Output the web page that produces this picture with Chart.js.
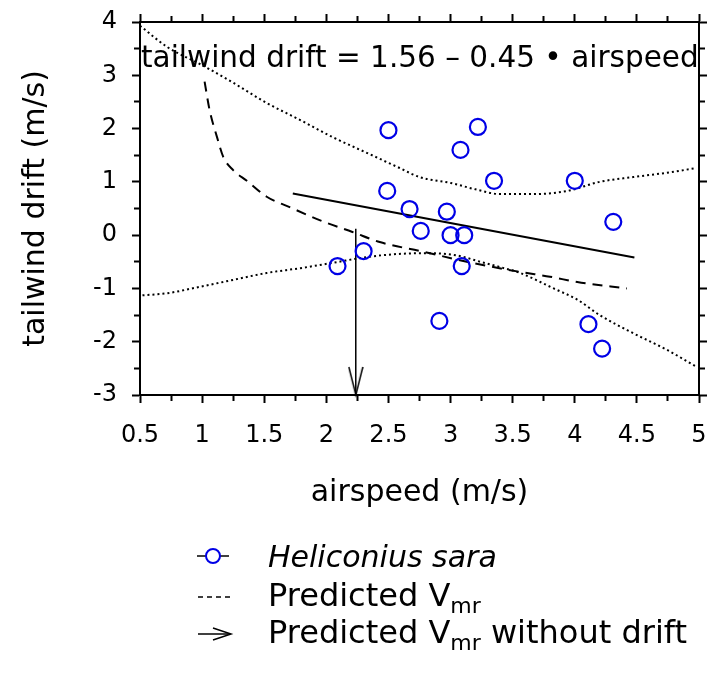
<!DOCTYPE html>
<html>
<head>
<meta charset="utf-8">
<script src="https://cdn.jsdelivr.net/npm/chart.js@4/dist/chart.umd.min.js"></script>
<style>
html, body { margin: 0; padding: 0; background: #fff; }
#wrap { position: relative; width: 708px; height: 684px; }
#myChart { position: absolute; left: 0; top: 0; }
#symbols { position: absolute; left: 0; top: 0; }
.leg { position: absolute; left: 268px; font: 32px "DejaVu Sans"; line-height: 32px; color: #000; white-space: nowrap; }
.leg sub { font-size: 22px; vertical-align: -7px; line-height: 0; }
</style>
</head>
<body>
<div id="wrap">
  <canvas id="myChart" width="708" height="684"></canvas>
  <svg id="symbols" width="708" height="684">
    <line x1="197" y1="556" x2="229" y2="556" stroke="#000" stroke-width="1.5"/>
    <circle cx="213" cy="556" r="7" fill="#fff" stroke="#0000e6" stroke-width="2"/>
    <line x1="198" y1="597" x2="231" y2="597" stroke="#000" stroke-width="1.5" stroke-dasharray="5 4"/>
    <line x1="198" y1="634" x2="230" y2="634" stroke="#000" stroke-width="1.5"/>
    <polyline points="213,628 231,634 213,640" fill="none" stroke="#000" stroke-width="1.5"/>
  </svg>
  <div class="leg" style="top:541px; font-size:30px"><i>Heliconius sara</i></div>
  <div class="leg" style="top:579px">Predicted V<sub>mr</sub></div>
  <div class="leg" style="top:616px">Predicted V<sub>mr</sub> without drift</div>
</div>
<script>
// Heliconius sara measurements
var speedX = [2.5, 3.22, 3.08, 3.35, 4.0, 2.49, 2.67, 2.76, 2.97, 3.0, 3.11, 3.09, 4.31, 2.09, 2.3, 2.91, 4.11, 4.22];
var driftY = [1.97, 2.03, 1.6, 1.02, 1.02, 0.83, 0.49, 0.08, 0.44, 0.0, 0.0, -0.58, 0.25, -0.58, -0.3, -1.61, -1.67, -2.13];

// regression line end points
var fitX = [1.73, 4.48];
var fitY = [0.78, -0.42];

// predicted Vmr (dashed)
var vmrX = [1.02, 1.06, 1.12, 1.17, 1.25, 1.36, 1.52, 1.71, 1.97, 2.21, 2.43, 2.78, 3.13, 3.56, 3.8, 4.02, 4.42];
var vmrY = [2.88, 2.35, 1.84, 1.47, 1.22, 1.02, 0.72, 0.52, 0.26, 0.06, -0.13, -0.31, -0.5, -0.69, -0.78, -0.88, -1.0];

// confidence band (dotted)
var upperX = [0.5, 0.72, 1.0, 1.25, 1.52, 1.79, 2.05, 2.33, 2.59, 2.75, 3.0, 3.2, 3.4, 3.66, 3.94, 4.2, 4.47, 4.74, 4.98];
var upperY = [3.93, 3.53, 3.19, 2.86, 2.48, 2.16, 1.84, 1.54, 1.26, 1.09, 0.98, 0.86, 0.77, 0.77, 0.83, 1.0, 1.09, 1.17, 1.26];
var lowerX = [0.52, 0.72, 0.98, 1.25, 1.52, 1.79, 2.05, 2.33, 2.6, 2.83, 3.05, 3.24, 3.4, 3.56, 3.83, 4.02, 4.2, 4.47, 4.74, 4.98];
var lowerY = [-1.13, -1.09, -0.97, -0.84, -0.71, -0.62, -0.52, -0.41, -0.35, -0.34, -0.38, -0.5, -0.6, -0.71, -1.0, -1.21, -1.5, -1.84, -2.15, -2.47];

// predicted Vmr without drift (arrow)
var arrowX = [2.237, 2.237];
var arrowY = [0.12, -3];

var xTickLabels = ['0.5', '1', '1.5', '2', '2.5', '3', '3.5', '4', '4.5', '5'];
var yTickLabels = ['-3', '-2', '-1', '0', '1', '2', '3', '4'];

function pts(xs, ys) {
  return xs.map(function (x, i) { return { x: x, y: ys[i] }; });
}

// open arrow head, tip in the centre of the image
var head = document.createElement('canvas');
head.width = 16; head.height = 58;
var hc = head.getContext('2d');
hc.strokeStyle = '#000';
hc.lineWidth = 1.5;
hc.beginPath();
hc.moveTo(1, 1); hc.lineTo(8, 29); hc.lineTo(15, 1);
hc.stroke();

// major ticks full length, minor ticks cut short with a dash pattern
function tickDash(step, outsideFirst) {
  return function (c) {
    var v = c.tick ? c.tick.value : 0;
    var major = Math.abs(v / step - Math.round(v / step)) < 1e-6;
    if (major) return [];
    return outsideFirst ? [0, 2, 5, 100] : [5, 100];
  };
}

function grid(step, outsideFirst) {
  return {
    drawOnChartArea: false,
    drawTicks: true,
    tickLength: 8,
    tickWidth: 2,
    tickColor: '#000',
    tickBorderDash: tickDash(step, outsideFirst)
  };
}

// fixed box sizes, no extra padding from the tick labels
function fixSize(w, h) {
  return function (s) {
    if (w !== null) s.width = w;
    if (h !== null) s.height = h;
    s.paddingLeft = 0; s.paddingRight = 0;
    s.paddingTop = 0; s.paddingBottom = 0;
  };
}

var border = { display: true, color: '#000', width: 2 };
var tickFont = { family: 'DejaVu Sans', size: 24 };
var titleFont = { family: 'DejaVu Sans', size: 30 };

var equation = {
  id: 'equation',
  afterDraw: function (chart) {
    var ctx = chart.ctx;
    ctx.save();
    ctx.font = '29.5px "DejaVu Sans"';
    ctx.fillStyle = '#000';
    ctx.textBaseline = 'alphabetic';
    ctx.fillText('tailwind drift = 1.56 \u2013 0.45 \u2022 airspeed', 141, 67);
    ctx.restore();
  }
};

var ctx = document.getElementById('myChart').getContext('2d');

var myChart = new Chart(ctx, {
  type: 'scatter',
  data: {
    datasets: [{
      label: 'Heliconius sara',
      data: pts(speedX, driftY),
      pointStyle: 'circle',
      pointRadius: 8,
      pointBorderWidth: 2.2,
      pointBorderColor: '#0000e6',
      pointBackgroundColor: 'rgba(0,0,0,0)',
      showLine: false
    }, {
      label: 'fit',
      data: pts(fitX, fitY),
      showLine: true,
      borderColor: '#000',
      borderWidth: 2,
      pointRadius: 0
    }, {
      label: 'Predicted Vmr',
      data: pts(vmrX, vmrY),
      showLine: true,
      borderColor: '#000',
      borderWidth: 2,
      borderDash: [10, 7],
      cubicInterpolationMode: 'monotone',
      pointRadius: 0
    }, {
      label: 'upper',
      data: pts(upperX, upperY),
      showLine: true,
      borderColor: '#000',
      borderWidth: 2,
      borderDash: [2, 3],
      cubicInterpolationMode: 'monotone',
      pointRadius: 0
    }, {
      label: 'lower',
      data: pts(lowerX, lowerY),
      showLine: true,
      borderColor: '#000',
      borderWidth: 2,
      borderDash: [2, 3],
      cubicInterpolationMode: 'monotone',
      pointRadius: 0
    }, {
      label: 'Predicted Vmr without drift',
      data: pts(arrowX, arrowY),
      showLine: true,
      borderColor: '#000',
      borderWidth: 1.5,
      clip: false,
      pointRadius: [0, 5],
      pointStyle: function (c) { return c.dataIndex === 1 ? head : 'circle'; }
    }]
  },
  options: {
    responsive: false,
    animation: false,
    layout: { autoPadding: false, padding: { left: 0, right: 0, top: 0, bottom: 173 } },
    plugins: { legend: { display: false }, tooltip: { enabled: false } },
    scales: {
      x: {
        type: 'linear',
        position: 'bottom',
        min: 0.5,
        max: 5,
        border: border,
        grid: grid(0.5, false),
        ticks: {
          stepSize: 0.25,
          autoSkip: false,
          maxRotation: 0,
          padding: 18,
          color: '#000',
          font: tickFont,
          callback: function (value, index) {
            return index % 2 === 0 ? xTickLabels[index / 2] : '';
          }
        },
        title: { display: true, text: 'airspeed (m/s)', color: '#000', font: titleFont, padding: { top: 0, bottom: 0 } },
        afterFit: fixSize(null, 116)
      },
      x2: {
        type: 'linear',
        position: 'top',
        min: 0.5,
        max: 5,
        border: border,
        grid: grid(0.5, true),
        ticks: { display: false, stepSize: 0.25 },
        afterFit: fixSize(null, 22)
      },
      y: {
        type: 'linear',
        position: 'left',
        min: -3,
        max: 4,
        border: border,
        grid: grid(1, true),
        ticks: {
          stepSize: 0.5,
          autoSkip: false,
          padding: 15,
          color: '#000',
          font: tickFont,
          callback: function (value, index) {
            return index % 2 === 0 ? yTickLabels[index / 2] : '';
          }
        },
        title: { display: true, text: 'tailwind drift (m/s)', color: '#000', font: titleFont, padding: { top: 18, bottom: 0 } },
        afterFit: fixSize(140, null)
      },
      y2: {
        type: 'linear',
        position: 'right',
        min: -3,
        max: 4,
        border: border,
        grid: grid(1, false),
        ticks: { display: false, stepSize: 0.5 },
        afterFit: fixSize(9, null)
      }
    }
  },
  plugins: [equation]
});
</script>
</body>
</html>
